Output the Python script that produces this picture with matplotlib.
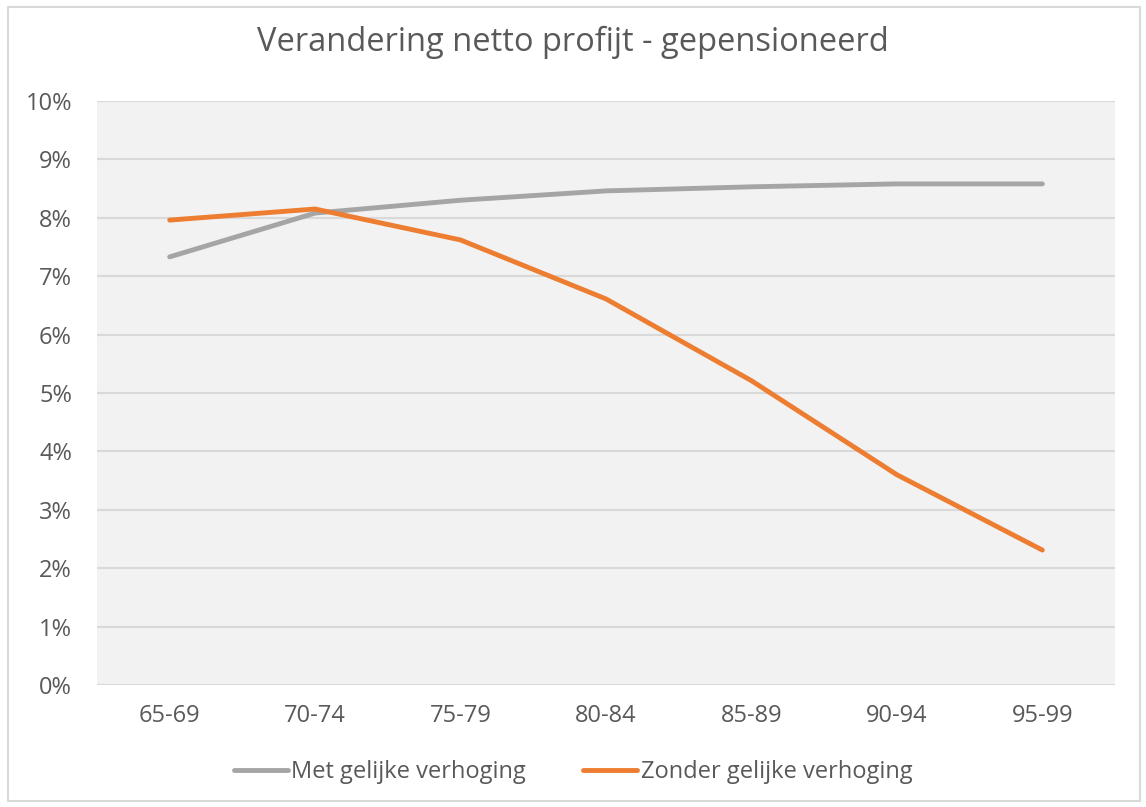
import matplotlib.pyplot as plt
from matplotlib.patches import Rectangle
from matplotlib.ticker import PercentFormatter

plt.rcParams['font.family'] = ['Open Sans', 'DejaVu Sans']

# Data
categorieen = ["65-69", "70-74", "75-79", "80-84", "85-89", "90-94", "95-99"]
met_gelijke = [7.33, 8.08, 8.30, 8.46, 8.53, 8.58, 8.58]
zonder_gelijke = [7.96, 8.15, 7.62, 6.61, 5.21, 3.60, 2.31]

fig = plt.figure(figsize=(11.46, 8.07), dpi=100)
ax = fig.add_axes([0.0846, 0.1512, 0.8884, 0.7237])

ax.set_facecolor('#F2F2F2')
x = range(len(categorieen))
ax.plot(x, met_gelijke, color='#A5A5A5', lw=3.5, solid_capstyle='round',
        label='Met gelijke verhoging', zorder=3)
ax.plot(x, zonder_gelijke, color='#ED7D31', lw=3.5, solid_capstyle='round',
        label='Zonder gelijke verhoging', zorder=3)

ax.set_xlim(-0.5, len(categorieen) - 0.5)
ax.set_ylim(0, 10)
ax.set_yticks(range(0, 11))
ax.yaxis.set_major_formatter(PercentFormatter(decimals=0))
ax.set_xticks(list(x))
ax.set_xticklabels(categorieen)
ax.grid(axis='y', color='#D9D9D9', lw=1.5, zorder=0)
ax.set_axisbelow(True)
for s in ax.spines.values():
    s.set_visible(False)
ax.tick_params(length=0, labelsize=17, labelcolor='#595959')
ax.tick_params(axis='y', pad=18)
ax.tick_params(axis='x', pad=14)

fig.suptitle('Verandering netto profijt - gepensioneerd', x=0.5, y=0.968,
             fontsize=23.5, color='#595959')

leg = fig.legend(loc='center', bbox_to_anchor=(0.5, 0.043), ncol=2, frameon=False,
                 fontsize=17, handlelength=2.3, columnspacing=2.4, handletextpad=0.15)
for t in leg.get_texts():
    t.set_color('#595959')

fig.patches.append(Rectangle((0.007, 0.008), 0.988, 0.983, transform=fig.transFigure,
                             fill=False, edgecolor='#D9D9D9', lw=1.5))

fig.savefig('out.png', dpi=100)
